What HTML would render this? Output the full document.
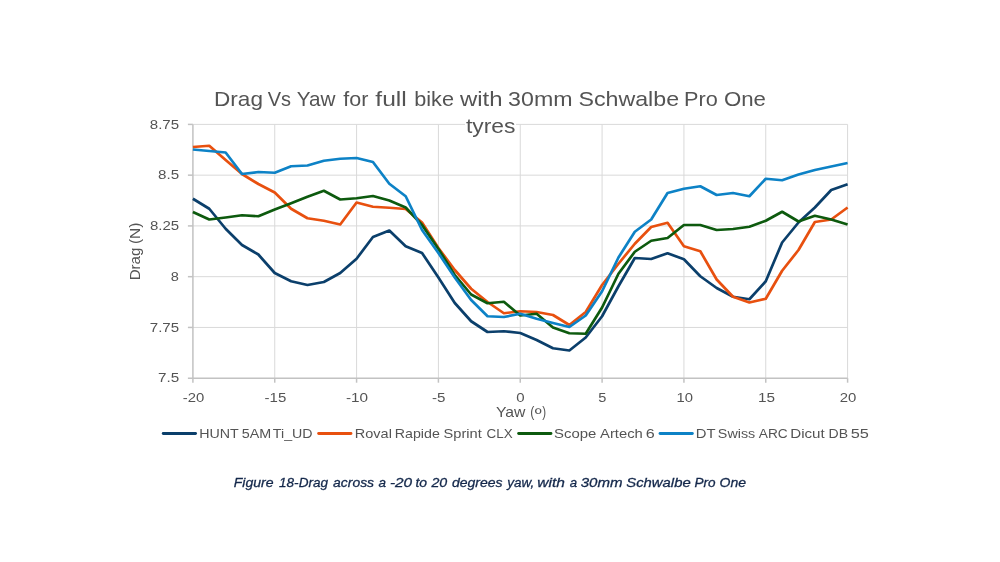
<!DOCTYPE html>
<html lang="en"><head><meta charset="utf-8"><title>Drag Vs Yaw</title>
<style>html,body{margin:0;padding:0;background:#fff}body{width:1000px;height:562px;overflow:hidden}svg{display:block}text{font-family:"Liberation Sans",Arial,sans-serif}</style></head><body>
<svg width="1000" height="562" viewBox="0 0 1000 562">
<rect width="1000" height="562" fill="#fff"/>
<g stroke="#d9d9d9" stroke-width="1" fill="none">
<line x1="192.9" y1="124.40" x2="847.6" y2="124.40"/>
<line x1="192.9" y1="175.16" x2="847.6" y2="175.16"/>
<line x1="192.9" y1="225.92" x2="847.6" y2="225.92"/>
<line x1="192.9" y1="276.68" x2="847.6" y2="276.68"/>
<line x1="192.9" y1="327.44" x2="847.6" y2="327.44"/>
<line x1="274.74" y1="124.4" x2="274.74" y2="378.2"/>
<line x1="356.58" y1="124.4" x2="356.58" y2="378.2"/>
<line x1="438.41" y1="124.4" x2="438.41" y2="378.2"/>
<line x1="520.25" y1="124.4" x2="520.25" y2="378.2"/>
<line x1="602.09" y1="124.4" x2="602.09" y2="378.2"/>
<line x1="683.93" y1="124.4" x2="683.93" y2="378.2"/>
<line x1="765.76" y1="124.4" x2="765.76" y2="378.2"/>
<line x1="847.60" y1="124.4" x2="847.60" y2="378.2"/>
</g>
<g stroke="#c2c2c2" stroke-width="1.5" fill="none">
<line x1="192.9" y1="124.4" x2="192.9" y2="382.7"/>
<line x1="187.9" y1="378.2" x2="847.6" y2="378.2"/>
<line x1="187.9" y1="124.40" x2="192.9" y2="124.40"/>
<line x1="187.9" y1="175.16" x2="192.9" y2="175.16"/>
<line x1="187.9" y1="225.92" x2="192.9" y2="225.92"/>
<line x1="187.9" y1="276.68" x2="192.9" y2="276.68"/>
<line x1="187.9" y1="327.44" x2="192.9" y2="327.44"/>
<line x1="274.74" y1="378.2" x2="274.74" y2="382.7"/>
<line x1="356.58" y1="378.2" x2="356.58" y2="382.7"/>
<line x1="438.41" y1="378.2" x2="438.41" y2="382.7"/>
<line x1="520.25" y1="378.2" x2="520.25" y2="382.7"/>
<line x1="602.09" y1="378.2" x2="602.09" y2="382.7"/>
<line x1="683.93" y1="378.2" x2="683.93" y2="382.7"/>
<line x1="765.76" y1="378.2" x2="765.76" y2="382.7"/>
<line x1="847.60" y1="378.2" x2="847.60" y2="382.7"/>
</g>
<rect x="465" y="121" width="51" height="7" fill="#fff"/>
<g fill="#545454" font-size="20.3px">
<text><tspan x="214.05" y="105.5" textLength="48.90" lengthAdjust="spacingAndGlyphs">Drag</tspan> <tspan x="267.75" y="105.5" textLength="23.31" lengthAdjust="spacingAndGlyphs">Vs</tspan> <tspan x="296.89" y="105.5" textLength="38.66" lengthAdjust="spacingAndGlyphs">Yaw</tspan> <tspan x="343.33" y="105.5" textLength="25.11" lengthAdjust="spacingAndGlyphs">for</tspan> <tspan x="375.30" y="105.5" textLength="31.45" lengthAdjust="spacingAndGlyphs">full</tspan> <tspan x="414.26" y="105.5" textLength="39.77" lengthAdjust="spacingAndGlyphs">bike</tspan> <tspan x="460.00" y="105.5" textLength="42.57" lengthAdjust="spacingAndGlyphs">with</tspan> <tspan x="508.14" y="105.5" textLength="64.41" lengthAdjust="spacingAndGlyphs">30mm</tspan> <tspan x="578.46" y="105.5" textLength="100.63" lengthAdjust="spacingAndGlyphs">Schwalbe</tspan> <tspan x="684.13" y="105.5" textLength="33.74" lengthAdjust="spacingAndGlyphs">Pro</tspan> <tspan x="723.90" y="105.5" textLength="42.02" lengthAdjust="spacingAndGlyphs">One</tspan></text>
<text><tspan x="465.92" y="133.2" textLength="49.47" lengthAdjust="spacingAndGlyphs">tyres</tspan></text>
</g>
<g fill="none" stroke-width="2.7" stroke-linejoin="round" stroke-linecap="butt">
<path stroke="#0b3f6b" d="M192.90,198.75 L209.27,208.75 L225.63,228.75 L242.00,245.00 L258.37,254.50 L274.74,273.00 L291.11,281.25 L307.47,285.00 L323.84,282.00 L340.21,273.00 L356.58,258.75 L372.94,237.00 L389.31,230.50 L405.68,246.25 L422.04,253.00 L438.41,277.50 L454.78,303.00 L471.15,321.25 L487.51,332.00 L503.88,331.25 L520.25,333.00 L536.62,340.00 L552.99,348.25 L569.35,350.50 L585.72,337.50 L602.09,316.25 L618.46,286.25 L634.82,258.00 L651.19,259.00 L667.56,253.25 L683.92,259.25 L700.29,276.25 L716.66,288.00 L733.03,296.75 L749.39,299.25 L765.76,281.25 L782.13,242.50 L798.50,222.50 L814.87,207.50 L831.23,190.00 L847.60,184.25"/>
<path stroke="#e8500f" d="M192.90,147.00 L209.27,145.75 L225.63,160.00 L242.00,174.00 L258.37,184.00 L274.74,192.50 L291.11,208.75 L307.47,218.25 L323.84,220.75 L340.21,224.50 L356.58,202.50 L372.94,206.75 L389.31,207.75 L405.68,209.00 L422.04,222.50 L438.41,248.00 L454.78,270.00 L471.15,288.75 L487.51,302.00 L503.88,313.25 L520.25,311.25 L536.62,312.00 L552.99,315.00 L569.35,325.00 L585.72,312.00 L602.09,285.00 L618.46,263.75 L634.82,243.75 L651.19,227.00 L667.56,222.75 L683.92,246.25 L700.29,251.25 L716.66,279.50 L733.03,296.75 L749.39,302.50 L765.76,298.75 L782.13,270.75 L798.50,250.00 L814.87,222.00 L831.23,219.50 L847.60,207.50"/>
<path stroke="#0d5a0e" d="M192.90,212.00 L209.27,219.50 L225.63,217.50 L242.00,215.25 L258.37,216.25 L274.74,209.50 L291.11,203.25 L307.47,196.75 L323.84,190.75 L340.21,199.50 L356.58,198.25 L372.94,196.00 L389.31,200.50 L405.68,207.50 L422.04,225.00 L438.41,249.00 L454.78,275.00 L471.15,294.50 L487.51,303.25 L503.88,301.75 L520.25,315.50 L536.62,313.75 L552.99,327.50 L569.35,333.25 L585.72,333.75 L602.09,307.50 L618.46,273.75 L634.82,251.75 L651.19,240.75 L667.56,238.00 L683.92,225.00 L700.29,225.00 L716.66,230.00 L733.03,229.00 L749.39,226.75 L765.76,220.75 L782.13,211.75 L798.50,221.50 L814.87,215.75 L831.23,219.50 L847.60,224.50"/>
<path stroke="#0d82c6" d="M192.90,149.50 L209.27,151.00 L225.63,152.50 L242.00,174.00 L258.37,172.00 L274.74,172.75 L291.11,166.25 L307.47,165.50 L323.84,160.75 L340.21,158.75 L356.58,158.00 L372.94,162.00 L389.31,183.75 L405.68,196.25 L422.04,230.00 L438.41,253.00 L454.78,277.50 L471.15,300.00 L487.51,316.25 L503.88,317.00 L520.25,313.75 L536.62,318.75 L552.99,323.00 L569.35,327.00 L585.72,315.50 L602.09,291.25 L618.46,257.50 L634.82,231.75 L651.19,219.50 L667.56,193.00 L683.92,188.75 L700.29,186.25 L716.66,195.00 L733.03,193.00 L749.39,196.25 L765.76,178.75 L782.13,180.25 L798.50,174.50 L814.87,170.00 L831.23,166.50 L847.60,163.00"/>
</g>
<g fill="#545454" font-size="12.5px">
<text><tspan x="149.80" y="128.5" textLength="29.32" lengthAdjust="spacingAndGlyphs">8.75</tspan></text>
<text><tspan x="158.09" y="179.26" textLength="21.08" lengthAdjust="spacingAndGlyphs">8.5</tspan></text>
<text><tspan x="149.90" y="230.02" textLength="29.21" lengthAdjust="spacingAndGlyphs">8.25</tspan></text>
<text><tspan x="170.82" y="280.78" textLength="8.11" lengthAdjust="spacingAndGlyphs">8</tspan></text>
<text><tspan x="149.80" y="331.54" textLength="29.32" lengthAdjust="spacingAndGlyphs">7.75</tspan></text>
<text><tspan x="157.99" y="382.3" textLength="21.19" lengthAdjust="spacingAndGlyphs">7.5</tspan></text>
<text><tspan x="182.81" y="401.8" textLength="21.48" lengthAdjust="spacingAndGlyphs">-20</tspan></text>
<text><tspan x="264.60" y="401.8" textLength="21.69" lengthAdjust="spacingAndGlyphs">-15</tspan></text>
<text><tspan x="345.99" y="401.8" textLength="22.12" lengthAdjust="spacingAndGlyphs">-10</tspan></text>
<text><tspan x="432.00" y="401.8" textLength="13.46" lengthAdjust="spacingAndGlyphs">-5</tspan></text>
<text><tspan x="516.20" y="401.8" textLength="8.34" lengthAdjust="spacingAndGlyphs">0</tspan></text>
<text><tspan x="598.22" y="401.8" textLength="8.11" lengthAdjust="spacingAndGlyphs">5</tspan></text>
<text><tspan x="676.42" y="401.8" textLength="16.46" lengthAdjust="spacingAndGlyphs">10</tspan></text>
<text><tspan x="757.98" y="401.8" textLength="17.03" lengthAdjust="spacingAndGlyphs">15</tspan></text>
<text><tspan x="839.70" y="401.8" textLength="16.58" lengthAdjust="spacingAndGlyphs">20</tspan></text>
</g>
<g fill="#545454" font-size="14.4px">
<text><tspan x="495.95" y="417" textLength="29.48" lengthAdjust="spacingAndGlyphs">Yaw</tspan></text>
<text><tspan x="530.14" y="417" textLength="4.11" lengthAdjust="spacingAndGlyphs">(</tspan><tspan x="534.87" y="418.9" textLength="6.87" lengthAdjust="spacingAndGlyphs">º</tspan><tspan x="542.30" y="417" textLength="3.84" lengthAdjust="spacingAndGlyphs">)</tspan></text>
</g>
<g fill="#545454" font-size="15.2px">
<text transform="translate(139.9 0) rotate(-90)"><tspan x="-280.34" y="0" textLength="32.65" lengthAdjust="spacingAndGlyphs">Drag</tspan> <tspan x="-244.02" y="0" textLength="21.43" lengthAdjust="spacingAndGlyphs">(N)</tspan></text>
</g>
<g fill="none" stroke-width="2.8" stroke-linecap="round">
<line stroke="#0b3f6b" x1="163.2" y1="433.5" x2="195.6" y2="433.5"/>
<line stroke="#e8500f" x1="318.6" y1="433.5" x2="351.0" y2="433.5"/>
<line stroke="#0d5a0e" x1="518.6" y1="433.5" x2="551.0" y2="433.5"/>
<line stroke="#0d82c6" x1="660" y1="433.5" x2="692.4" y2="433.5"/>
</g>
<g fill="#545454" font-size="13.2px">
<text><tspan x="199.18" y="437.6" textLength="39.34" lengthAdjust="spacingAndGlyphs">HUNT</tspan> <tspan x="241.71" y="437.6" textLength="29.52" lengthAdjust="spacingAndGlyphs">5AM</tspan> <tspan x="272.83" y="437.6" textLength="39.76" lengthAdjust="spacingAndGlyphs">Ti_UD</tspan></text>
<text><tspan x="354.85" y="437.6" textLength="37.01" lengthAdjust="spacingAndGlyphs">Roval</tspan> <tspan x="394.82" y="437.6" textLength="45.02" lengthAdjust="spacingAndGlyphs">Rapide</tspan> <tspan x="443.52" y="437.6" textLength="38.18" lengthAdjust="spacingAndGlyphs">Sprint</tspan> <tspan x="486.64" y="437.6" textLength="26.13" lengthAdjust="spacingAndGlyphs">CLX</tspan></text>
<text><tspan x="554.10" y="437.6" textLength="42.29" lengthAdjust="spacingAndGlyphs">Scope</tspan> <tspan x="600.05" y="437.6" textLength="42.78" lengthAdjust="spacingAndGlyphs">Artech</tspan> <tspan x="645.68" y="437.6" textLength="9.00" lengthAdjust="spacingAndGlyphs">6</tspan></text>
<text><tspan x="695.89" y="437.6" textLength="19.49" lengthAdjust="spacingAndGlyphs">DT</tspan> <tspan x="717.89" y="437.6" textLength="37.34" lengthAdjust="spacingAndGlyphs">Swiss</tspan> <tspan x="758.80" y="437.6" textLength="28.92" lengthAdjust="spacingAndGlyphs">ARC</tspan> <tspan x="790.25" y="437.6" textLength="34.50" lengthAdjust="spacingAndGlyphs">Dicut</tspan> <tspan x="828.64" y="437.6" textLength="19.49" lengthAdjust="spacingAndGlyphs">DB</tspan> <tspan x="850.68" y="437.6" textLength="18.15" lengthAdjust="spacingAndGlyphs">55</tspan></text>
</g>
<g fill="#14284b" stroke="#14284b" stroke-width="0.3" font-size="13.6px" font-style="italic">
<text><tspan x="233.78" y="487.2" textLength="39.76" lengthAdjust="spacingAndGlyphs">Figure</tspan> <tspan x="279.05" y="487.2" textLength="48.97" lengthAdjust="spacingAndGlyphs">18-Drag</tspan> <tspan x="333.04" y="487.2" textLength="41.06" lengthAdjust="spacingAndGlyphs">across</tspan> <tspan x="378.55" y="487.2" textLength="7.51" lengthAdjust="spacingAndGlyphs">a</tspan> <tspan x="389.95" y="487.2" textLength="22.22" lengthAdjust="spacingAndGlyphs">-20</tspan> <tspan x="415.49" y="487.2" textLength="11.67" lengthAdjust="spacingAndGlyphs">to</tspan> <tspan x="431.40" y="487.2" textLength="15.83" lengthAdjust="spacingAndGlyphs">20</tspan> <tspan x="451.99" y="487.2" textLength="50.40" lengthAdjust="spacingAndGlyphs">degrees</tspan> <tspan x="507.25" y="487.2" textLength="27.05" lengthAdjust="spacingAndGlyphs">yaw,</tspan> <tspan x="537.35" y="487.2" textLength="27.54" lengthAdjust="spacingAndGlyphs">with</tspan> <tspan x="569.76" y="487.2" textLength="7.39" lengthAdjust="spacingAndGlyphs">a</tspan> <tspan x="580.72" y="487.2" textLength="41.87" lengthAdjust="spacingAndGlyphs">30mm</tspan> <tspan x="626.25" y="487.2" textLength="64.44" lengthAdjust="spacingAndGlyphs">Schwalbe</tspan> <tspan x="694.50" y="487.2" textLength="21.10" lengthAdjust="spacingAndGlyphs">Pro</tspan> <tspan x="719.53" y="487.2" textLength="26.54" lengthAdjust="spacingAndGlyphs">One</tspan></text>
</g>
</svg></body></html>
